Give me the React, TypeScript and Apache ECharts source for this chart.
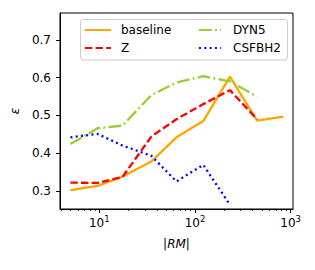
import React, { useEffect, useRef } from "react";
import * as echarts from "echarts";

const rmBins = [5, 9.6, 17.5, 35, 64, 122, 232, 445, 840];
const baseline = [0.302, 0.313, 0.338, 0.378, 0.442, 0.485, 0.603, 0.486, 0.497];
const zSeries = [0.322, 0.321, 0.337, 0.444, 0.49, 0.53, 0.567, 0.49];
const dyn5 = [0.424, 0.466, 0.473, 0.554, 0.587, 0.604, 0.59, 0.55];
const csfbh2 = [0.442, 0.451, 0.42, 0.393, 0.325, 0.369, 0.263];
const xMajorTicks = [1, 2, 3];
const yTicks = [0.3, 0.4, 0.5, 0.6, 0.7];

const FONT = "DejaVu Sans";

function pairs(vals: number[]) {
  return vals.map((v, i) => [Math.log10(rmBins[i]), v]);
}

function minorTicks(lo: number, hi: number) {
  const out: number[] = [];
  for (let d = 0; d <= 3; d++) {
    for (let k = 2; k <= 9; k++) {
      const v = Math.log10(k * Math.pow(10, d));
      if (v >= lo && v <= hi) out.push(v);
    }
  }
  return out;
}

export default function App() {
  const ref = useRef<HTMLDivElement>(null);
  useEffect(() => {
    const chart = echarts.init(ref.current!, null, { renderer: "svg" });
    const xMin = 0.59;
    const xMax = 3.024;
    const lw = 2.3;
    const mk = (name: string, vals: number[], color: string, dash: any) => ({
      name,
      type: "line",
      data: pairs(vals),
      symbol: "none",
      xAxisIndex: 0,
      lineStyle: { color, width: lw, type: dash, cap: "butt" },
      itemStyle: { color },
      z: 2,
    });
    const legendCommon = {
      orient: "vertical",
      top: 24,
      padding: 0,
      itemHeight: 12,
      itemGap: 6,
      z: 4,
      itemStyle: { opacity: 0 },
    };
    chart.setOption({
      animation: false,
      textStyle: { fontFamily: FONT },
      grid: {
        left: 60,
        right: 22,
        top: 13,
        bottom: 61,
        show: true,
        borderColor: "#000",
        borderWidth: 1,
        backgroundColor: "transparent",
      },
      xAxis: [
        {
          type: "value",
          min: xMin,
          max: xMax,
          position: "bottom",
          axisLine: { show: true, lineStyle: { color: "#000", width: 1 } },
          axisTick: {
            show: true,
            length: 4,
            customValues: xMajorTicks,
            lineStyle: { color: "#000" },
          },
          splitLine: { show: false },
          axisLabel: {
            customValues: xMajorTicks,
            margin: 5,
            color: "#000",
            formatter: (v: number) => `{b|10}{s|${Math.round(v)}}`,
            rich: {
              b: { fontSize: 12, fontFamily: FONT, color: "#000" },
              s: { fontSize: 8.5, fontFamily: FONT, color: "#000", padding: [0, 0, 8, 0] },
            },
          },
          name: "|RM|",
          nameLocation: "middle",
          nameGap: 29,
          nameTextStyle: { fontSize: 12, fontStyle: "italic", fontFamily: FONT, color: "#000" },
        },
        {
          type: "value",
          min: xMin,
          max: xMax,
          position: "bottom",
          axisLine: { show: false },
          axisTick: {
            show: true,
            length: 2,
            customValues: minorTicks(xMin, xMax),
            lineStyle: { color: "#000", width: 0.8 },
          },
          axisLabel: { show: false },
          splitLine: { show: false },
        },
      ],
      yAxis: {
        type: "value",
        min: 0.252,
        max: 0.7715,
        axisLine: { show: true, lineStyle: { color: "#000", width: 1 } },
        axisTick: { show: true, length: 4, customValues: yTicks, lineStyle: { color: "#000" } },
        splitLine: { show: false },
        axisLabel: {
          customValues: yTicks,
          margin: 9,
          fontSize: 12,
          fontFamily: FONT,
          color: "#000",
          formatter: (v: number) => v.toFixed(1),
        },
        name: "ε",
        nameLocation: "middle",
        nameGap: 38,
        nameRotate: 90,
        nameTextStyle: { fontSize: 12, fontStyle: "italic", fontFamily: FONT, color: "#000" },
      },
      legend: [
        {
          ...legendCommon,
          data: ["baseline", "Z"],
          left: 84,
          itemWidth: 26,
          textStyle: { fontSize: 12, fontFamily: FONT, color: "#000", padding: [0, 0, 0, 5] },
        },
        {
          ...legendCommon,
          data: ["DYN5", "CSFBH2"],
          left: 198,
          itemWidth: 22,
          textStyle: { fontSize: 12, fontFamily: FONT, color: "#000", padding: [0, 0, 0, 7] },
        },
      ],
      graphic: [
        {
          type: "rect",
          z: 3,
          shape: { x: 80.5, y: 19.5, width: 207, height: 40.5, r: 3 },
          style: { fill: "rgba(255,255,255,0.8)", stroke: "#cccccc", lineWidth: 1 },
        },
      ],
      series: [
        mk("baseline", baseline, "#FFA500", "solid"),
        mk("Z", zSeries, "#FF0000", [7.4, 3.2]),
        mk("DYN5", dyn5, "#9ACD32", [12.8, 3.2, 2, 3.2]),
        mk("CSFBH2", csfbh2, "#0000FF", [2, 3.3]),
      ],
    });
    return () => chart.dispose();
  }, []);
  return <div ref={ref} style={{ width: 315, height: 270, margin: -8 }} />;
}
